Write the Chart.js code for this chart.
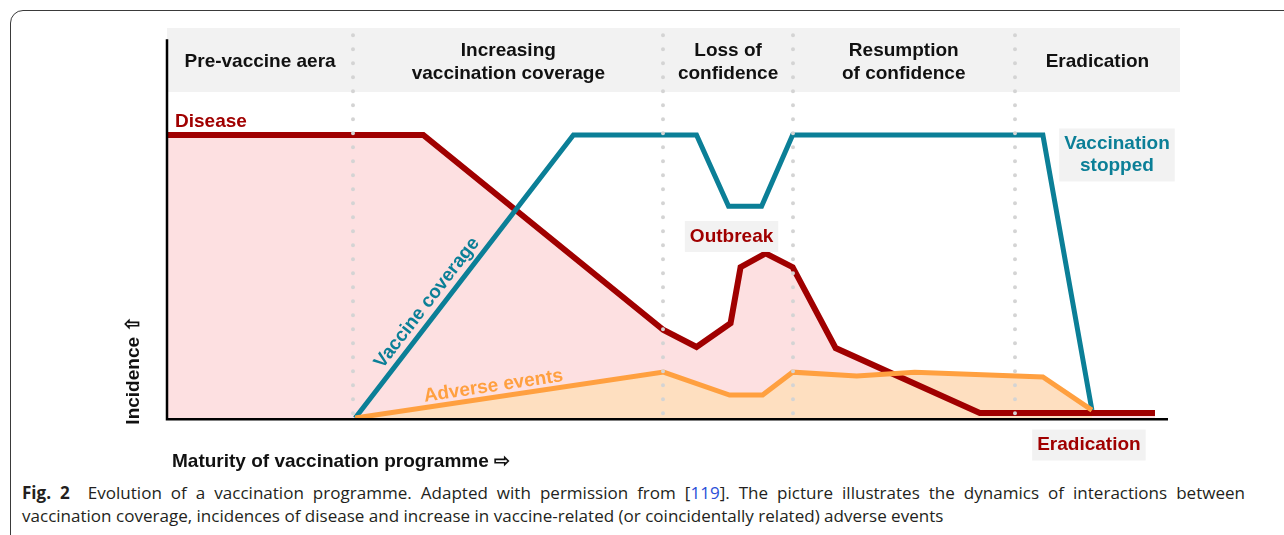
<!DOCTYPE html>
<html>
<head>
<meta charset="utf-8">
<script src="https://cdn.jsdelivr.net/npm/chart.js@4"></script>
<style>
  html, body { margin: 0; padding: 0; background: #fff; overflow: hidden; }
  body { width: 1284px; height: 535px; position: relative; }
  #frame { position: absolute; left: 10px; top: 10px; width: 1400px; height: 700px;
           border: 1.5px solid #3a3a3a; border-radius: 13px; }
  #chart { position: absolute; left: 0; top: 0; }
  #caption { position: absolute; left: 22px; top: 481px; width: 1223px; font: 17.05px "Open Sans", sans-serif;
             line-height: 23px; color: #231f20; white-space: nowrap; }
  #caption .l1 { text-align: justify; text-align-last: justify; }
  #caption .ref { color: #2b50d8; }
</style>
</head>
<body>
<div id="frame"></div>
<canvas id="chart" width="1284" height="480"></canvas>
<div id="caption"><div class="l1"><b>Fig. 2</b>&nbsp; Evolution of a vaccination programme. Adapted with permission from [<span class="ref">119</span>]. The picture illustrates the dynamics of interactions between</div><div>vaccination coverage, incidences of disease and increase in vaccine-related (or coincidentally related) adverse events</div></div>
<script>
  // ---- data (x = maturity 0..100, y = incidence, 100 = pre-vaccine level) ----
  const diseaseX = [0, 25.6, 49.6, 52.9, 56.3, 57.3, 59.8, 62.5, 66.8, 81.2, 98.7];
  const diseaseY = [100, 100, 31.1, 25.1, 33.5, 53.3, 58.2, 53.3, 24.7, 1.8, 1.8];
  const coverageX = [18.8, 40.6, 52.9, 56.1, 59.4, 62.5, 87.5, 92.4];
  const coverageY = [0, 100, 100, 74.8, 74.8, 100, 100, 2.8];
  const adverseX = [18.8, 49.6, 56.2, 59.5, 62.5, 68.9, 74.7, 87.5, 92.4];
  const adverseY = [0, 16.2, 8.1, 8.1, 16.2, 14.8, 16.2, 14.5, 2.8];

  const phaseBounds = [0, 18.6, 49.6, 62.5, 84.7, 101.2];
  const phaseLabels = [
    ["Pre-vaccine aera"],
    ["Increasing", "vaccination coverage"],
    ["Loss of", "confidence"],
    ["Resumption", "of confidence"],
    ["Eradication"],
  ];

  const Y_MAX = 137.8;
  const HEADER_BOTTOM = 115.2;
  const HEADER_MID = 125.8;
  const DOTS_TOP = 135.2;

  const RED = "#a00000";
  const TEAL = "#0b7f97";
  const ORANGE = "#ffa040";
  const BOXGRAY = "#f2f2f2";

  // free labels: [text lines, x, y, colour, rotation deg, align, boxed]
  const notes = [
    [["Disease"], 0.8, 105.0, RED, 0, "left", false],
    [["Outbreak"], 56.4, 64.5, RED, 0, "center", true],
    [["Vaccination", "stopped"], 94.9, 93.3, TEAL, 0, "center", true],
    [["Eradication"], 92.1, -9.2, RED, 0, "center", true],
    [["Vaccine coverage"], 25.9, 40.9, TEAL, -52.4, "center", false],
    [["Adverse events"], 32.6, 11.6, ORANGE, -8.5, "center", false],
    [["Incidence \u21E7"], -3.4, 16.9, "#111", -90, "center", false],
    [["Maturity of vaccination programme \u21E8"], 0.5, -15.0, "#111", 0, "left", false],
  ];

  const pts = (xs, ys) => xs.map((x, i) => ({ x, y: ys[i] }));
  const FONT = 'bold 19px "Liberation Sans", Arial, sans-serif';

  const overlay = {
    id: "overlay",
    beforeDraw(chart) {
      const { ctx, scales: { x, y } } = chart;
      ctx.save();
      ctx.fillStyle = BOXGRAY;
      const l = x.getPixelForValue(0), r = x.getPixelForValue(phaseBounds[phaseBounds.length - 1]);
      const t = y.getPixelForValue(Y_MAX), b = y.getPixelForValue(HEADER_BOTTOM);
      ctx.fillRect(l, t, r - l, b - t);
      ctx.restore();
    },
    afterDatasetsDraw(chart) {
      const { ctx, scales: { x, y } } = chart;
      ctx.save();

      // phase separators (dotted)
      ctx.strokeStyle = "#d4d4d4";
      ctx.lineWidth = 4;
      ctx.lineCap = "round";
      ctx.setLineDash([0, 14]);
      phaseBounds.slice(1, -1).forEach((v) => {
        const px = Math.round(x.getPixelForValue(v));
        ctx.beginPath();
        ctx.moveTo(px, y.getPixelForValue(DOTS_TOP));
        ctx.lineTo(px, y.getPixelForValue(0));
        ctx.stroke();
      });
      ctx.setLineDash([]);

      // axes
      ctx.strokeStyle = "#000";
      ctx.lineWidth = 2.5;
      ctx.lineCap = "butt";
      ctx.beginPath();
      ctx.moveTo(x.getPixelForValue(0), y.getPixelForValue(133.8));
      ctx.lineTo(x.getPixelForValue(0), y.getPixelForValue(0) + 1.2);
      ctx.lineTo(x.getPixelForValue(100), y.getPixelForValue(0) + 1.2);
      ctx.stroke();

      // phase titles
      ctx.font = FONT;
      ctx.fillStyle = "#111";
      ctx.textAlign = "center";
      ctx.textBaseline = "middle";
      phaseLabels.forEach((lines, i) => {
        const cx = x.getPixelForValue((phaseBounds[i] + phaseBounds[i + 1]) / 2);
        const cy = y.getPixelForValue(HEADER_MID);
        lines.forEach((s, k) => {
          ctx.fillText(s, cx, cy + (k - (lines.length - 1) / 2) * 23);
        });
      });

      // annotations
      notes.forEach(([lines, nx, ny, color, rot, align, boxed]) => {
        const px = x.getPixelForValue(nx), py = y.getPixelForValue(ny);
        ctx.save();
        ctx.translate(px, py);
        ctx.rotate((rot * Math.PI) / 180);
        ctx.font = FONT;
        if (boxed) {
          const w = Math.max(...lines.map((s) => ctx.measureText(s).width)) + 10;
          const h = lines.length * 22 + 9;
          ctx.fillStyle = BOXGRAY;
          ctx.fillRect(-w / 2, -h / 2 + 1, w, h);
        }
        ctx.fillStyle = color;
        ctx.textAlign = align;
        ctx.textBaseline = "middle";
        lines.forEach((s, k) => {
          ctx.fillText(s, 0, (k - (lines.length - 1) / 2) * 22 + 1);
        });
        ctx.restore();
      });

      ctx.restore();
    },
  };

  new Chart(document.getElementById("chart"), {
    type: "line",
    data: {
      // index 0 is painted on top
      datasets: [
        {
          label: "Adverse events",
          data: pts(adverseX, adverseY),
          borderColor: ORANGE,
          borderWidth: 5,
          backgroundColor: "#fedfc0",
          fill: "origin",
        },
        {
          label: "Vaccine coverage",
          data: pts(coverageX, coverageY),
          borderColor: TEAL,
          borderWidth: 5,
          fill: false,
        },
        {
          label: "Disease",
          data: pts(diseaseX, diseaseY),
          borderColor: RED,
          borderWidth: 6,
          backgroundColor: "#fde0e1",
          fill: "origin",
        },
      ],
    },
    options: {
      responsive: false,
      devicePixelRatio: 1,
      animation: false,
      layout: { padding: { left: 167, right: 116, top: 28, bottom: 62 } },
      elements: {
        point: { radius: 0, hoverRadius: 0 },
        line: { tension: 0, borderJoinStyle: "miter", borderCapStyle: "butt" },
      },
      scales: {
        x: { type: "linear", min: 0, max: 100, display: false },
        y: { type: "linear", min: 0, max: Y_MAX, display: false },
      },
      plugins: {
        legend: { display: false },
        tooltip: { enabled: false },
        filler: { drawTime: "beforeDatasetsDraw" },
      },
    },
    plugins: [overlay],
  });
</script>
</body>
</html>
